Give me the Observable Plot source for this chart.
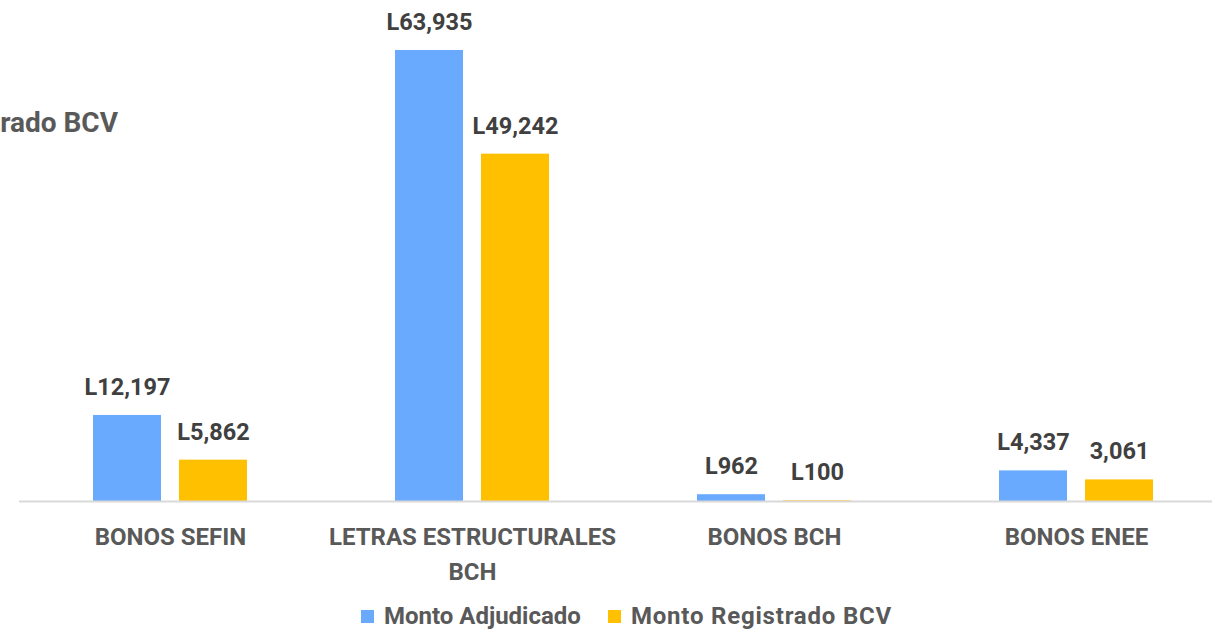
<!DOCTYPE html>
<html>
<head>
<meta charset="utf-8">
<script src="https://cdn.jsdelivr.net/npm/d3@7"></script>
<script src="https://cdn.jsdelivr.net/npm/@observablehq/plot@0.6"></script>
<style>
  html, body { margin: 0; padding: 0; background: #fff; }
  #wrap { position: relative; width: 1212px; height: 629px; overflow: hidden; font-family: Roboto, "Noto Sans", sans-serif; font-weight: 700; }
  #title { position: absolute; right: calc(1212px - 118px); top: 106px; font-size: 28px; color: #595959; white-space: nowrap; }
  #legend { position: absolute; left: 0; top: 602px; width: 1212px; display: flex; justify-content: center; gap: 27px; font-size: 24px; color: #595959; padding-left: 41px; box-sizing: border-box; }
  .item { display: flex; align-items: center; gap: 10px; }
  .sw { width: 13px; height: 13px; display: inline-block; }
  .item:nth-child(2) span:last-child { letter-spacing: 0.8px; }
</style>
</head>
<body>
<div id="wrap">
  <div id="title">Monto Registrado BCV</div>
  <div id="chart"></div>
  <div id="legend"></div>
</div>
<script>
const categories = ["BONOS SEFIN", "LETRAS ESTRUCTURALES\nBCH", "BONOS BCH", "BONOS ENEE"];
const seriesNames = ["Monto Adjudicado", "Monto Registrado BCV"];
const adjudicado = [12197, 63935, 962, 4337];
const registrado = [5862, 49242, 100, 3061];
const adjudicadoLabels = ["L12,197", "L63,935", "L962", "L4,337"];
const registradoLabels = ["L5,862", "L49,242", "L100", "3,061"];
const colors = ["#69aaff", "#ffc000"];

const rowsA = categories.map((c, i) => ({cat: c, value: adjudicado[i], label: adjudicadoLabels[i]}));
const rowsR = categories.map((c, i) => ({cat: c, value: registrado[i], label: registradoLabels[i]}));

const inset = (302 - 68) / 2;
const off = 43;
const labelStyle = {fontSize: 23.5, fontWeight: 700, fill: "#404040", dy: -28, fontFamily: "Roboto, sans-serif"};

const plot = Plot.plot({
  width: 1212,
  height: 600,
  marginLeft: 19,
  marginRight: 0,
  marginTop: 50,
  marginBottom: 99,
  style: {fontFamily: "Roboto, sans-serif", background: "transparent", overflow: "visible"},
  x: {domain: categories, range: [19, 1227], padding: 0, label: null},
  y: {domain: [0, 63935], axis: null},
  marks: [
    Plot.barY(rowsA, {x: "cat", y: "value", fill: colors[0], dx: -off, insetLeft: inset, insetRight: inset}),
    Plot.barY(rowsR, {x: "cat", y: "value", fill: colors[1], dx: off, insetLeft: inset, insetRight: inset}),
    Plot.ruleY([0], {stroke: "#d9d9d9", strokeWidth: 2}),
    Plot.text(rowsA, {x: "cat", y: "value", text: "label", dx: -off, ...labelStyle}),
    Plot.text(rowsR, {x: "cat", y: "value", text: "label", dx: off, ...labelStyle}),
    Plot.axisX({tickSize: 0, tickPadding: 19, fontSize: 24, fontWeight: 700, fill: "#595959", lineHeight: 1.45, label: null})
  ]
});
document.getElementById("chart").appendChild(plot);

const legend = document.getElementById("legend");
seriesNames.forEach((n, i) => {
  const it = document.createElement("div");
  it.className = "item";
  const sw = document.createElement("span");
  sw.className = "sw";
  sw.style.background = colors[i];
  const t = document.createElement("span");
  t.textContent = n;
  it.appendChild(sw); it.appendChild(t);
  legend.appendChild(it);
});
</script>
</body>
</html>
